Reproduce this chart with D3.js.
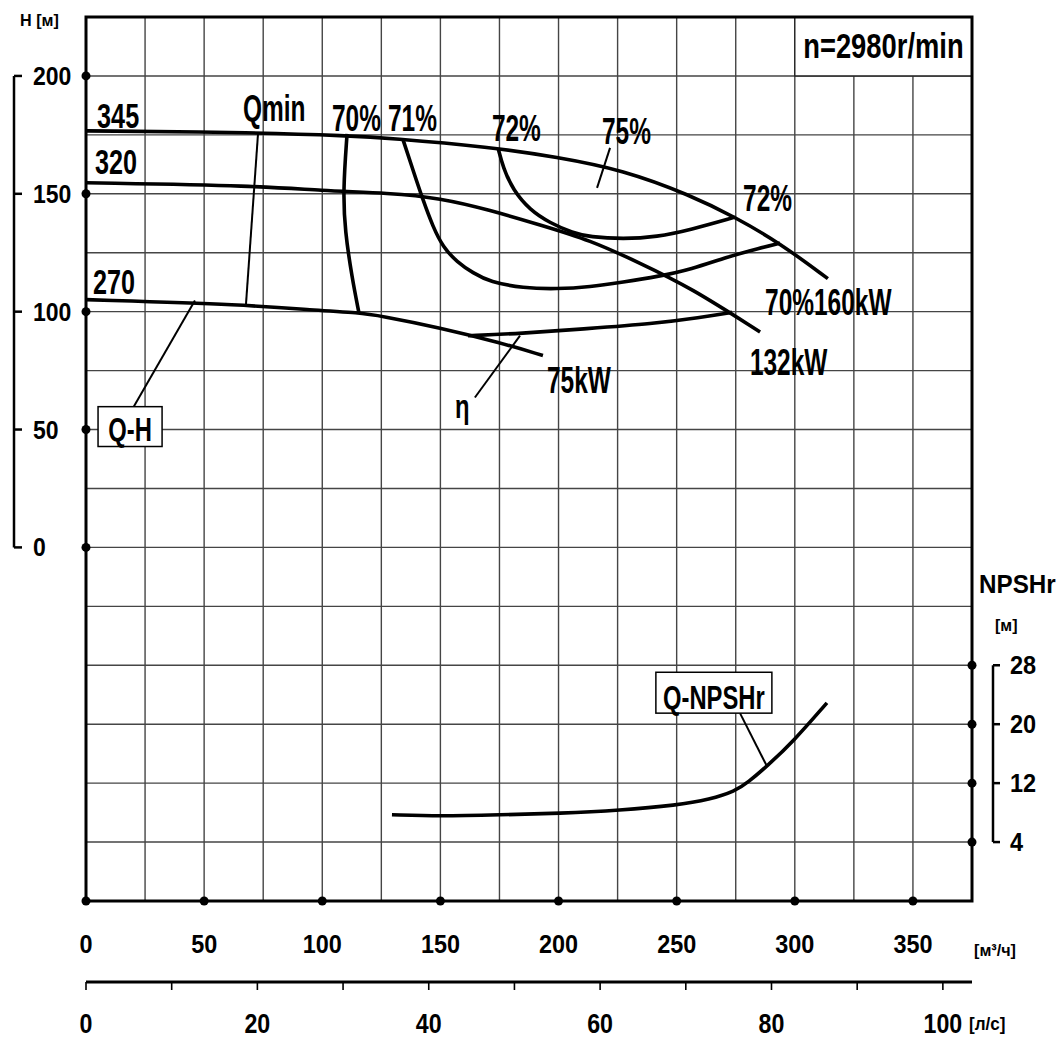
<!DOCTYPE html>
<html>
<head>
<meta charset="utf-8">
<script src="https://cdn.jsdelivr.net/npm/d3@7"></script>
<style>
  html, body { margin: 0; padding: 0; background: #fff; }
  svg text { font-family: "Liberation Sans", Arial, sans-serif; font-weight: bold; fill: #000; }
</style>
</head>
<body>
<div id="chart"></div>
<script>
// flow axis [m3/h], head axis [m], NPSHr axis [m], flow in [l/s]
const flowTicks = [0, 50, 100, 150, 200, 250, 300, 350];
const headTicks = [0, 50, 100, 150, 200];
const npshTicks = [4, 12, 20, 28];
const litreTicks = [0, 20, 40, 60, 80, 100];
const litreMinor = [0, 10, 20, 30, 40, 50, 60, 70, 80, 90, 100];
const litreAtAxisEnd = 103.4;

// Q-H curves for impeller 345 / 320 / 270  [Q m3/h, H m]
const head345 = [[0, 176.7], [73.6, 176], [110.5, 174.6], [128.7, 173.6], [171, 169.8], [199.3, 165.6], [227.3, 160.1], [255.6, 149.5], [274.7, 140.1], [293.7, 129.1], [314, 114]];
const head320 = [[0, 154.7], [73.6, 153.4], [99, 151.3], [128.7, 150.3], [149.8, 148.2], [171, 143.1], [192.2, 136.8], [213.3, 130.4], [234.5, 120.6], [255.6, 110.4], [285.3, 91.4]];
const head270 = [[0, 105.1], [67.7, 103], [99, 100.4], [115.1, 99.6], [124.4, 98.3], [149.8, 93.2], [175.2, 86.9], [193.4, 81.4]];

// efficiency iso lines
const eff75 = [[174.4, 169.4], [176.5, 161.3], [180.7, 151.6], [187.9, 143.1], [196.4, 137.6], [206.1, 133.4], [213.3, 131.7], [227.3, 130.8], [241.7, 131.7], [255.7, 134.7], [274.7, 140.1]];
const eff71 = [[134.2, 172.9], [138.4, 160.1], [142.6, 147.4], [146.9, 135.9], [151.1, 127.4], [157, 121.1], [163.8, 116.4], [171, 112.6], [185, 110], [199.3, 109.6], [213.3, 110.5], [227.3, 112.6], [241.7, 114.8], [256.3, 118], [271.3, 123.2], [285.3, 127], [293.7, 129.1]];
const eff70Left = [[110.5, 175.4], [108.8, 151.3], [109.6, 134.3], [112.6, 114.4], [115.5, 99.6]];
const eff70Right = [[161.7, 89.8], [183.7, 90.7], [212, 92.8], [240, 94.9], [259.9, 97.5], [273.4, 99.7]];
const qminLine = [[72.8, 175.4], [67.7, 103]];

// Q-NPSHr  [Q m3/h, NPSHr m]
const npshCurve = [[129.5, 7.7], [149.8, 7.5], [175.2, 7.7], [200.6, 7.9], [226, 8.3], [250.1, 9.0], [264.1, 9.8], [274.7, 10.9], [280.2, 12.1], [288.2, 14.3], [299.2, 17.6], [313.6, 22.9]];

const W = 1062, H = 1039;

const svg = d3.select("#chart").append("svg")
  .attr("width", W)
  .attr("height", H);

const x = d3.scaleLinear().domain([0, 375]).range([86, 972]);
const y = d3.scaleLinear().domain([-150, 225]).range([901, 17]);
const yN = d3.scaleLinear().domain([-4, 116]).range([901, 17]);
const xL = d3.scaleLinear().domain([0, litreAtAxisEnd]).range([x(0), x(375)]);

// condensed bold text helper
function label(px, py, s, size, sx, anchor) {
  return svg.append("text")
    .attr("transform", `translate(${px},${py}) scale(${sx},1)`)
    .attr("text-anchor", anchor || "start")
    .style("font-size", size + "px")
    .text(s);
}

// grid
const grid = svg.append("g").attr("stroke", "#454545").attr("stroke-width", 1.4);
d3.range(25, 375, 25).forEach(q => {
  grid.append("line").attr("x1", x(q)).attr("x2", x(q)).attr("y1", y(225)).attr("y2", y(-150));
});
d3.range(-125, 225, 25).forEach(h => {
  grid.append("line").attr("x1", x(0)).attr("x2", x(375)).attr("y1", y(h)).attr("y2", y(h));
});

// speed box
svg.append("rect")
  .attr("x", x(300)).attr("y", y(225))
  .attr("width", x(375) - x(300)).attr("height", y(200) - y(225))
  .attr("fill", "#fff").attr("stroke", "#222").attr("stroke-width", 1.4);
label((x(300) + x(375)) / 2, y(207.5), "n=2980r/min", 36, 0.76, "middle");

// frame
svg.append("rect")
  .attr("x", x(0)).attr("y", y(225))
  .attr("width", x(375) - x(0)).attr("height", y(-150) - y(225))
  .attr("fill", "none").attr("stroke", "#000").attr("stroke-width", 3);

// dots on axes
const dots = svg.append("g").attr("fill", "#000");
headTicks.forEach(h => dots.append("circle").attr("cx", x(0)).attr("cy", y(h)).attr("r", 4.5));
flowTicks.forEach(q => dots.append("circle").attr("cx", x(q)).attr("cy", y(-150)).attr("r", 4.5));
npshTicks.forEach(v => dots.append("circle").attr("cx", x(375)).attr("cy", yN(v)).attr("r", 4.5));

// left head scale (bracket)
const lb = svg.append("g").attr("stroke", "#000").attr("stroke-width", 2.5).attr("fill", "none");
lb.append("line").attr("x1", 14).attr("x2", 14).attr("y1", y(200)).attr("y2", y(0));
headTicks.forEach(h => lb.append("line").attr("x1", 14).attr("x2", 22).attr("y1", y(h)).attr("y2", y(h)));
headTicks.forEach(h => label(33, y(h) + 9, String(h), 25, 0.92));
label(20, 26, "H [м]", 17, 0.95);

// right NPSHr scale (bracket)
const rb = svg.append("g").attr("stroke", "#000").attr("stroke-width", 2.5).attr("fill", "none");
rb.append("line").attr("x1", 993).attr("x2", 993).attr("y1", yN(28)).attr("y2", yN(4));
npshTicks.forEach(v => rb.append("line").attr("x1", 993).attr("x2", 1000).attr("y1", yN(v)).attr("y2", yN(v)));
npshTicks.forEach(v => label(1010, yN(v) + 9, String(v), 25, 0.94));
label(979, 593, "NPSHr", 25, 0.97);
label(995, 631, "[м]", 16, 1);

// flow axis labels [m3/h]
flowTicks.forEach(q => label(x(q), 953, String(q), 26, 0.9, "middle"));
label(974, 956, "[м³/ч]", 17, 0.95);

// second flow axis [l/s]
const la = svg.append("g").attr("stroke", "#000");
la.append("line").attr("x1", x(0)).attr("x2", x(375)).attr("y1", 982).attr("y2", 982).attr("stroke-width", 3);
litreMinor.forEach(v => la.append("line").attr("x1", xL(v)).attr("x2", xL(v)).attr("y1", 982).attr("y2", 990).attr("stroke-width", 1.6));
litreTicks.forEach(v => label(xL(v), 1033, String(v), 27, 0.86, "middle"));
label(969, 1030, "[л/с]", 18, 0.95);

// curves (basis smoothing irons out reading noise, ends stay fixed)
const line = d3.line().x(d => x(d[0])).y(d => y(d[1])).curve(d3.curveBasis);
const lineN = d3.line().x(d => x(d[0])).y(d => yN(d[1])).curve(d3.curveBasis);

const curves = svg.append("g").attr("fill", "none").attr("stroke", "#000").attr("stroke-width", 3.6);
[head345, head320, head270, eff75, eff71, eff70Left, eff70Right].forEach(c => {
  curves.append("path").attr("d", line(c));
});
curves.append("path").attr("d", lineN(npshCurve));

// leader lines
const leaders = svg.append("g").attr("fill", "none").attr("stroke", "#000").attr("stroke-width", 2);
leaders.append("path").attr("d", d3.line().x(d => x(d[0])).y(d => y(d[1]))(qminLine));
leaders.append("line").attr("x1", x(20)).attr("y1", y(59.3)).attr("x2", x(46.1)).attr("y2", y(104.7));
leaders.append("line").attr("x1", x(183.7)).attr("y1", y(89.8)).attr("x2", x(164.6)).attr("y2", y(63.6));
leaders.append("line").attr("x1", x(221.8)).attr("y1", y(169.5)).attr("x2", x(216.3)).attr("y2", y(152.5));
leaders.append("line").attr("x1", x(276.8)).attr("y1", yN(21.5)).attr("x2", x(288.2)).attr("y2", yN(14.3));

// curve labels
label(x(4.7), y(178), "345", 36, 0.7);
label(x(3.8), y(158.5), "320", 36, 0.7);
label(x(3.0), y(107.6), "270", 36, 0.7);
label(x(66.4), y(180.9), "Qmin", 36, 0.68);
label(x(104.1), y(176.7), "70%", 36, 0.68);
label(x(127.8), y(176.7), "71%", 36, 0.68);
label(x(171.8), y(172.5), "72%", 36, 0.68);
label(x(218.4), y(171.2), "75%", 36, 0.68);
label(x(278.1), y(142.8), "72%", 36, 0.68);
label(x(287.4), y(98.7), "70%160kW", 36, 0.68);
label(x(281.0), y(73.3), "132kW", 36, 0.68);
label(x(195.1), y(65.7), "75kW", 36, 0.68);
label(x(156.2), y(55.1), "η", 34, 0.7);

// boxed labels
svg.append("rect")
  .attr("x", x(5.1)).attr("y", y(59.7))
  .attr("width", x(32.2) - x(5.1)).attr("height", y(42.8) - y(59.7))
  .attr("fill", "#fff").attr("stroke", "#000").attr("stroke-width", 1.5);
label((x(5.1) + x(32.2)) / 2, y(45), "Q-H", 34, 0.7, "middle");

svg.append("rect")
  .attr("x", x(241.2)).attr("y", yN(27.05))
  .attr("width", x(290.3) - x(241.2)).attr("height", yN(21.5) - yN(27.05))
  .attr("fill", "#fff").attr("stroke", "#000").attr("stroke-width", 1.5);
label((x(241.2) + x(290.3)) / 2, yN(22.1), "Q-NPSHr", 34, 0.7, "middle");
</script>
</body>
</html>
